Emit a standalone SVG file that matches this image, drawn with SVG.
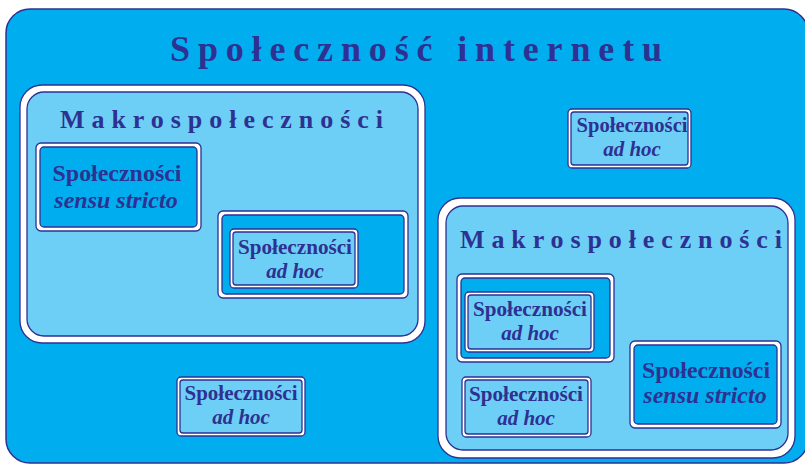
<svg xmlns="http://www.w3.org/2000/svg" width="805" height="465" viewBox="0 0 805 465">
<style>
.main{fill:#00aeef;stroke:#2e3192;stroke-width:1.5}
.band{fill:#ffffff;stroke:#2e3192;stroke-width:1.3}
.light{fill:#6dcff6;stroke:#2e3192;stroke-width:1.3}
.dark{fill:#00aeef;stroke:#2e3192;stroke-width:1.3}
text{font-family:"Liberation Serif","Times New Roman",serif;font-weight:bold;fill:#2e3192}
.t{font-size:21px;text-anchor:middle}
.s{font-size:24px;text-anchor:middle}
.i{font-style:italic}
.h1{font-size:36px}
.h2{font-size:26px}
</style>
<rect width="805" height="465" fill="#ffffff"/>
<g id="internet">
<rect class="main" x="6" y="9" width="802" height="454" rx="24"/>
<text class="h1" x="170" y="61" textLength="492" lengthAdjust="spacing">Społeczność internetu</text>
</g>
<g id="makro1">
<rect class="band" x="20" y="85" width="405" height="258" rx="22"/>
<rect class="light" x="27" y="92" width="391" height="244" rx="17"/>
<text class="h2" x="60" y="128" textLength="323" lengthAdjust="spacing">Makrospołeczności</text>
</g>
<g id="stricto1">
<rect class="band" x="36" y="143" width="165" height="88" rx="5"/>
<rect class="dark" x="40" y="147" width="157" height="80" rx="4"/>
<text class="s" x="117" y="181" textLength="129" lengthAdjust="spacingAndGlyphs">Społeczności</text>
<text class="s i" x="116" y="208">sensu stricto</text>
</g>
<g id="group1">
<rect class="band" x="218" y="211" width="190" height="87" rx="5"/>
<rect class="dark" x="222" y="215" width="182" height="79" rx="4"/>
</g>
<g id="adhoc1">
<rect class="band" x="230" y="229" width="128" height="59" rx="4"/>
<rect class="light" x="233" y="232" width="122" height="53" rx="3"/>
<text class="t" x="295" y="254" textLength="114" lengthAdjust="spacingAndGlyphs">Społeczności</text>
<text class="t i" x="295" y="278">ad hoc</text>
</g>
<g id="adhoc2">
<rect class="band" x="568" y="109" width="123" height="59" rx="4"/>
<rect class="light" x="571" y="112" width="117" height="53" rx="3"/>
<text class="t" x="632" y="132" textLength="111" lengthAdjust="spacingAndGlyphs">Społeczności</text>
<text class="t i" x="632" y="156">ad hoc</text>
</g>
<g id="adhoc3">
<rect class="band" x="177" y="377" width="128" height="59" rx="4"/>
<rect class="light" x="180" y="380" width="122" height="53" rx="3"/>
<text class="t" x="241" y="400" textLength="113" lengthAdjust="spacingAndGlyphs">Społeczności</text>
<text class="t i" x="241" y="424">ad hoc</text>
</g>
<g id="makro2">
<rect class="band" x="438" y="198" width="357" height="260" rx="22"/>
<rect class="light" x="446" y="206" width="342" height="244" rx="17"/>
<text class="h2" x="460" y="248" textLength="322" lengthAdjust="spacing">Makrospołeczności</text>
</g>
<g id="group2">
<rect class="band" x="457" y="274" width="157" height="88" rx="5"/>
<rect class="dark" x="461" y="278" width="149" height="80" rx="4"/>
</g>
<g id="adhoc4">
<rect class="band" x="465" y="292" width="129" height="60" rx="4"/>
<rect class="light" x="468" y="295" width="123" height="54" rx="3"/>
<text class="t" x="530" y="316" textLength="114" lengthAdjust="spacingAndGlyphs">Społeczności</text>
<text class="t i" x="530" y="340">ad hoc</text>
</g>
<g id="adhoc5">
<rect class="band" x="462" y="377" width="129" height="60" rx="4"/>
<rect class="light" x="465" y="380" width="123" height="54" rx="3"/>
<text class="t" x="526" y="401" textLength="114" lengthAdjust="spacingAndGlyphs">Społeczności</text>
<text class="t i" x="526" y="425">ad hoc</text>
</g>
<g id="stricto2">
<rect class="band" x="630" y="341" width="151" height="87" rx="5"/>
<rect class="dark" x="634" y="345" width="143" height="79" rx="4"/>
<text class="s" x="706" y="378" textLength="128" lengthAdjust="spacingAndGlyphs">Społeczności</text>
<text class="s i" x="705" y="403">sensu stricto</text>
</g>
<g id="connectors"/>
</svg>
